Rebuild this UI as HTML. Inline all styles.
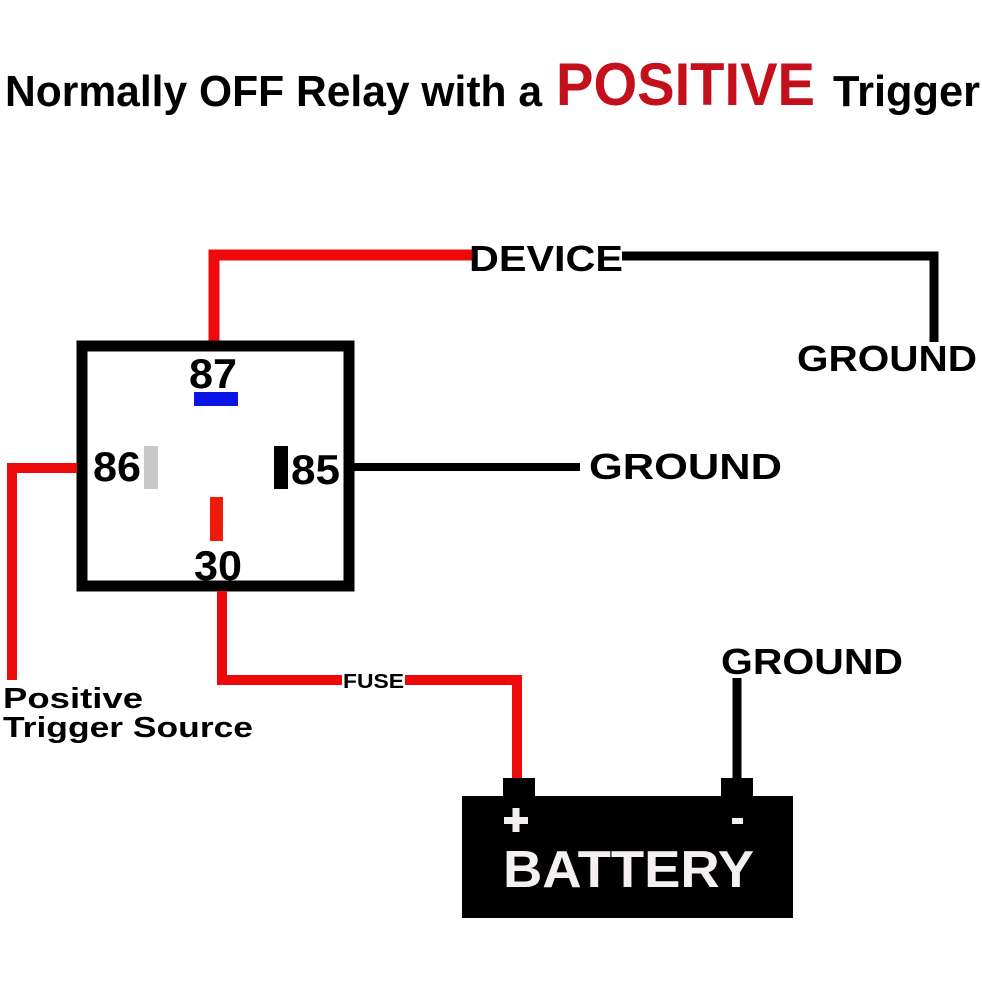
<!DOCTYPE html>
<html><head><meta charset="utf-8"><style>html,body{margin:0;padding:0;background:#fff}svg{display:block}</style></head>
<body>
<svg width="982" height="982" viewBox="0 0 982 982" xmlns="http://www.w3.org/2000/svg" font-family="Liberation Sans, Arial, sans-serif" font-weight="bold">
<rect width="982" height="982" fill="#fff"/>
<text x="5" y="106" font-size="44" textLength="537" lengthAdjust="spacingAndGlyphs" fill="#000">Normally OFF Relay with a</text>
<text x="556" y="105" font-size="60" textLength="259" lengthAdjust="spacingAndGlyphs" fill="#c4101a">POSITIVE</text>
<text x="833" y="106" font-size="44" textLength="147" lengthAdjust="spacingAndGlyphs" fill="#000">Trigger</text>

<polyline points="214,341 214,255 472,255" fill="none" stroke="#ee0a0a" stroke-width="11"/>
<text x="469" y="271" font-size="36" textLength="154" lengthAdjust="spacingAndGlyphs" fill="#000">DEVICE</text>
<polyline points="622,256 934,256 934,342" fill="none" stroke="#000" stroke-width="9"/>
<text x="797" y="371" font-size="36" textLength="180" lengthAdjust="spacingAndGlyphs" fill="#000">GROUND</text>

<rect x="82" y="346" width="267" height="240" fill="#fff" stroke="#000" stroke-width="11"/>
<text x="189" y="388" font-size="42" textLength="48" lengthAdjust="spacingAndGlyphs" fill="#000">87</text>
<rect x="194" y="392" width="44" height="14" fill="#0a14e6"/>
<text x="93" y="481" font-size="42" textLength="48" lengthAdjust="spacingAndGlyphs" fill="#000">86</text>
<rect x="144" y="446" width="14" height="43" fill="#c8c8c8"/>
<rect x="274" y="446" width="14" height="43" fill="#000"/>
<text x="291" y="484" font-size="42" textLength="49" lengthAdjust="spacingAndGlyphs" fill="#000">85</text>
<rect x="210" y="497" width="13" height="44" fill="#ee1a0a"/>
<text x="194" y="580" font-size="42" textLength="48" lengthAdjust="spacingAndGlyphs" fill="#000">30</text>

<polyline points="77,468 12,468 12,680" fill="none" stroke="#ee0a0a" stroke-width="10"/>
<text x="3" y="708" font-size="29" textLength="140" lengthAdjust="spacingAndGlyphs" fill="#000">Positive</text>
<text x="3" y="737" font-size="29" textLength="250" lengthAdjust="spacingAndGlyphs" fill="#000">Trigger Source</text>

<line x1="354" y1="467" x2="580" y2="467" stroke="#000" stroke-width="8"/>
<text x="589" y="479" font-size="36" textLength="193" lengthAdjust="spacingAndGlyphs" fill="#000">GROUND</text>

<polyline points="222,591 222,680 342,680" fill="none" stroke="#ee0a0a" stroke-width="10"/>
<text x="343" y="688" font-size="20" textLength="61" lengthAdjust="spacingAndGlyphs" fill="#000">FUSE</text>
<polyline points="405,680 517,680 517,782" fill="none" stroke="#ee0a0a" stroke-width="10"/>

<text x="721" y="674" font-size="36" textLength="182" lengthAdjust="spacingAndGlyphs" fill="#000">GROUND</text>
<line x1="737" y1="678" x2="737" y2="780" stroke="#000" stroke-width="9"/>
<rect x="503" y="778" width="32" height="20" fill="#000"/>
<rect x="721" y="778" width="32" height="20" fill="#000"/>
<rect x="462" y="796" width="331" height="122" fill="#000"/>
<rect x="504" y="817" width="24" height="7" fill="#f5f0f0"/>
<rect x="512.5" y="808" width="7" height="24" fill="#f5f0f0"/>
<rect x="732" y="818" width="11" height="6" fill="#f5f0f0"/>
<text x="503" y="887" font-size="52" textLength="251" lengthAdjust="spacingAndGlyphs" fill="#f5f0f0">BATTERY</text>
</svg>
</body></html>
